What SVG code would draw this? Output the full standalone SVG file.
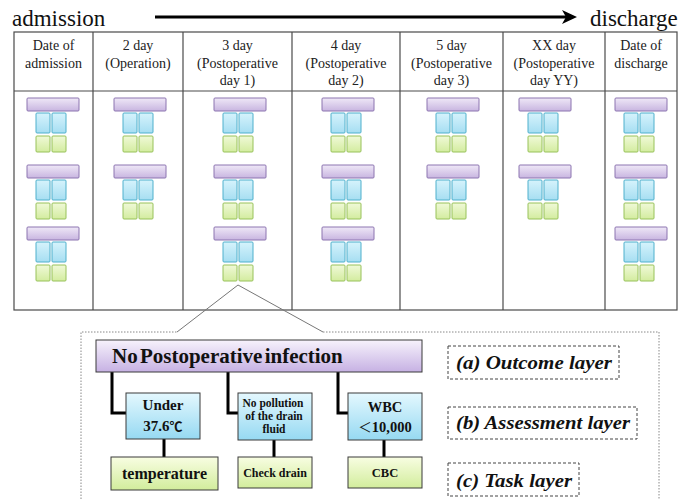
<svg xmlns="http://www.w3.org/2000/svg" width="684" height="499" viewBox="0 0 684 499">
<defs>
<linearGradient id="mp" x1="0" y1="0" x2="0" y2="1"><stop offset="0" stop-color="#efe8f7"/><stop offset="1" stop-color="#c8b5e0"/></linearGradient>
<linearGradient id="mb" x1="0" y1="0" x2="0" y2="1"><stop offset="0" stop-color="#d6f3fc"/><stop offset="1" stop-color="#a6def2"/></linearGradient>
<linearGradient id="mg" x1="0" y1="0" x2="0" y2="1"><stop offset="0" stop-color="#f0f9d8"/><stop offset="1" stop-color="#d3ec9f"/></linearGradient>
<linearGradient id="bp" x1="0" y1="0" x2="0" y2="1"><stop offset="0" stop-color="#f7f2fc"/><stop offset="1" stop-color="#c6b1e3"/></linearGradient>
<linearGradient id="bb" x1="0" y1="0" x2="0" y2="1"><stop offset="0" stop-color="#e4f8fe"/><stop offset="1" stop-color="#96d9f2"/></linearGradient>
<linearGradient id="bg" x1="0" y1="0" x2="0" y2="1"><stop offset="0" stop-color="#f8fde2"/><stop offset="1" stop-color="#d2ed9c"/></linearGradient>
<g id="mini" stroke-width="1">
<rect fill="url(#mp)" stroke="#8c74b0" x="0" y="0" width="52" height="13" rx="1"/>
<rect fill="url(#mb)" stroke="#4fb0cc" x="9" y="15" width="14" height="20" rx="1"/>
<rect fill="url(#mb)" stroke="#4fb0cc" x="25" y="15" width="14" height="20" rx="1"/>
<rect fill="url(#mg)" stroke="#98c25a" x="9" y="38" width="14" height="16" rx="1"/>
<rect fill="url(#mg)" stroke="#98c25a" x="25" y="38" width="14" height="16" rx="1"/>
</g>
</defs>
<rect width="684" height="499" fill="#fff"/>

<g id="timeline">
<text font-family="Liberation Serif" font-size="23" fill="#111" x="12" y="26">admission</text>
<text font-family="Liberation Serif" font-size="23" fill="#111" x="590" y="26">discharge</text>
<line x1="155" y1="17" x2="567" y2="17" stroke="#000" stroke-width="3.2"/>
<path d="M577,17 L562,10 L566,17 L562,24 Z" fill="#000"/>
</g>

<g id="table" fill="none" stroke="#4a4a4a" stroke-width="1.2">
<rect x="14" y="32" width="663" height="278"/>
<line x1="14" y1="91" x2="677" y2="91"/>
<line x1="93" y1="32" x2="93" y2="310"/>
<line x1="183" y1="32" x2="183" y2="310"/>
<line x1="292" y1="32" x2="292" y2="310"/>
<line x1="400" y1="32" x2="400" y2="310"/>
<line x1="503" y1="32" x2="503" y2="310"/>
<line x1="605" y1="32" x2="605" y2="310"/>
</g>

<g id="headers" font-family="Liberation Serif" font-size="14" fill="#222" text-anchor="middle">
<text x="53.5" y="50">Date of</text><text x="53.5" y="67.5">admission</text>
<text x="138" y="50">2 day</text><text x="138" y="67.5">(Operation)</text>
<text x="237.5" y="50">3 day</text><text x="237.5" y="67.5">(Postoperative</text><text x="237.5" y="85">day 1)</text>
<text x="346" y="50">4 day</text><text x="346" y="67.5">(Postoperative</text><text x="346" y="85">day 2)</text>
<text x="451.5" y="50">5 day</text><text x="451.5" y="67.5">(Postoperative</text><text x="451.5" y="85">day 3)</text>
<text x="554" y="50">XX day</text><text x="554" y="67.5">(Postoperative</text><text x="554" y="85">day YY)</text>
<text x="641" y="50">Date of</text><text x="641" y="67.5">discharge</text>
</g>

<g id="mini-groups">
<use href="#mini" x="27" y="98"/><use href="#mini" x="27" y="165"/><use href="#mini" x="27" y="227"/>
<use href="#mini" x="114" y="98"/><use href="#mini" x="114" y="165"/>
<use href="#mini" x="214" y="98"/><use href="#mini" x="214" y="165"/><use href="#mini" x="214" y="227"/>
<use href="#mini" x="322" y="98"/><use href="#mini" x="322" y="165"/><use href="#mini" x="322" y="227"/>
<use href="#mini" x="427" y="98"/><use href="#mini" x="427" y="165"/>
<use href="#mini" x="519" y="98"/><use href="#mini" x="519" y="165"/>
<use href="#mini" x="615" y="98"/><use href="#mini" x="615" y="165"/><use href="#mini" x="615" y="227"/>
</g>

<g id="zoom-frame" fill="none" stroke-width="1">
<path d="M177,332 L238,285 L323,332" stroke="#777"/>
<path d="M81,499 V332 H177 M323,332 H659 V499" stroke="#888" stroke-dasharray="1.5 1.5"/>
</g>

<g id="connectors" fill="none" stroke="#000" stroke-width="3">
<path d="M112,372 V413 H126"/>
<path d="M228,372 V413 H238"/>
<path d="M338,372 V413 H348"/>
<path d="M164,439 V457"/>
<path d="M274,440 V457"/>
<path d="M384,440 V457"/>
</g>

<g id="outcome">
<rect fill="url(#bp)" stroke="#3a3a3a" x="96" y="340" width="326" height="32"/>
<text font-family="Liberation Serif" font-weight="bold" fill="#111" x="112" y="363" font-size="21" word-spacing="-3">No Postoperative infection</text>
</g>

<g id="assess" fill="url(#bb)" stroke="#3a3a3a">
<rect x="126" y="393" width="74" height="46"/>
<rect x="238" y="393" width="74" height="47"/>
<rect x="348" y="393" width="74" height="47"/>
</g>
<g id="assess-text" font-family="Liberation Serif" font-weight="bold" fill="#111" text-anchor="middle">
<g id="assess-temp" font-size="15">
<text x="163" y="410">Under</text>
<text x="163" y="431">37.6<tspan font-family="Noto Sans CJK JP" font-size="13">℃</tspan></text>
</g>
<g id="assess-drain" font-size="11.5">
<text x="273" y="407">No pollution</text>
<text x="274" y="420">of the drain</text>
<text x="274" y="433">fluid</text>
</g>
<g id="assess-wbc" font-size="14.5">
<text x="385" y="412">WBC</text>
<text x="385" y="432"><tspan font-family="Noto Sans CJK JP" font-weight="normal" font-size="13.5">＜</tspan>10,000</text>
</g>
</g>

<g id="task" fill="url(#bg)" stroke="#3a3a3a">
<rect x="111" y="457" width="107" height="33"/>
<rect x="238" y="457" width="74" height="31"/>
<rect x="348" y="457" width="74" height="31"/>
</g>
<g id="task-text" font-family="Liberation Serif" font-weight="bold" fill="#111" text-anchor="middle">
<text id="task-temp" x="164.5" y="479" font-size="16">temperature</text>
<text id="task-drain" x="275" y="477" font-size="12">Check drain</text>
<text id="task-cbc" x="385" y="477" font-size="12.5">CBC</text>
</g>

<g id="legend" fill="none" stroke="#444" stroke-width="1" stroke-dasharray="3 2">
<rect x="448" y="346" width="171" height="33"/>
<rect x="448" y="407" width="189" height="32"/>
<rect x="448" y="463" width="131" height="33"/>
</g>
<g id="legend-text" font-family="Liberation Serif" font-weight="bold" font-style="italic" font-size="19" fill="#111">
<text x="456" y="369" textLength="156" lengthAdjust="spacingAndGlyphs">(a) Outcome layer</text>
<text x="456" y="429" textLength="174" lengthAdjust="spacingAndGlyphs">(b) Assessment layer</text>
<text x="456" y="487" textLength="116" lengthAdjust="spacingAndGlyphs">(c) Task layer</text>
</g>
</svg>
